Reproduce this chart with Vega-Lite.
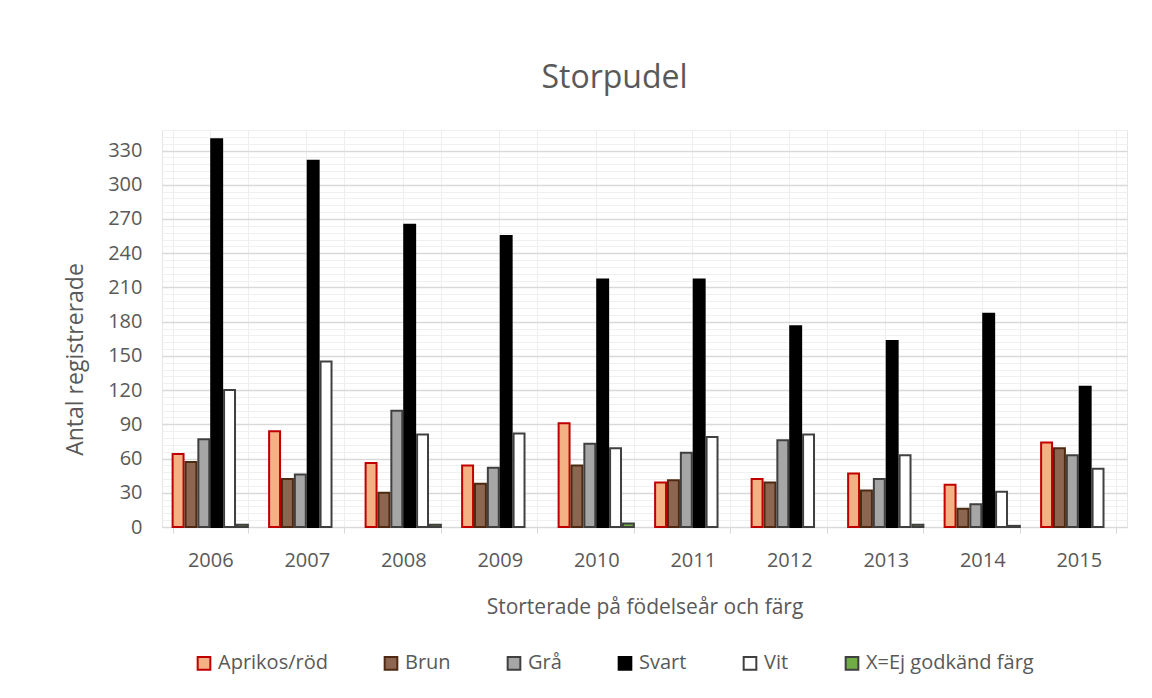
{
  "$schema": "https://vega.github.io/schema/vega-lite/v6.json",
  "autosize": {"type": "none"},
  "width": 965,
  "height": 397,
  "padding": {"left": 162, "top": 130, "right": 25, "bottom": 171},
  "background": "white",
  "config": {
    "font": "Open Sans",
    "view": {"stroke": "#e6e6e6", "strokeWidth": 1}
  },
  "title": {
    "text": "Storpudel",
    "fontSize": 32,
    "fontWeight": "normal",
    "color": "#595959",
    "font": "Open Sans",
    "anchor": "middle",
    "offset": 35,
    "dx": -30
  },
  "data": {
    "values": [
      {"ar": "2006", "farg": "Aprikos/röd", "antal": 64},
      {"ar": "2006", "farg": "Brun", "antal": 57},
      {"ar": "2006", "farg": "Grå", "antal": 77},
      {"ar": "2006", "farg": "Svart", "antal": 340},
      {"ar": "2006", "farg": "Vit", "antal": 120},
      {"ar": "2006", "farg": "X=Ej godkänd färg", "antal": 2},
      {"ar": "2007", "farg": "Aprikos/röd", "antal": 84},
      {"ar": "2007", "farg": "Brun", "antal": 42},
      {"ar": "2007", "farg": "Grå", "antal": 46},
      {"ar": "2007", "farg": "Svart", "antal": 321},
      {"ar": "2007", "farg": "Vit", "antal": 145},
      {"ar": "2008", "farg": "Aprikos/röd", "antal": 56},
      {"ar": "2008", "farg": "Brun", "antal": 30},
      {"ar": "2008", "farg": "Grå", "antal": 102},
      {"ar": "2008", "farg": "Svart", "antal": 265},
      {"ar": "2008", "farg": "Vit", "antal": 81},
      {"ar": "2008", "farg": "X=Ej godkänd färg", "antal": 2},
      {"ar": "2009", "farg": "Aprikos/röd", "antal": 54},
      {"ar": "2009", "farg": "Brun", "antal": 38},
      {"ar": "2009", "farg": "Grå", "antal": 52},
      {"ar": "2009", "farg": "Svart", "antal": 255},
      {"ar": "2009", "farg": "Vit", "antal": 82},
      {"ar": "2010", "farg": "Aprikos/röd", "antal": 91},
      {"ar": "2010", "farg": "Brun", "antal": 54},
      {"ar": "2010", "farg": "Grå", "antal": 73},
      {"ar": "2010", "farg": "Svart", "antal": 217},
      {"ar": "2010", "farg": "Vit", "antal": 69},
      {"ar": "2010", "farg": "X=Ej godkänd färg", "antal": 3},
      {"ar": "2011", "farg": "Aprikos/röd", "antal": 39},
      {"ar": "2011", "farg": "Brun", "antal": 41},
      {"ar": "2011", "farg": "Grå", "antal": 65},
      {"ar": "2011", "farg": "Svart", "antal": 217},
      {"ar": "2011", "farg": "Vit", "antal": 79},
      {"ar": "2012", "farg": "Aprikos/röd", "antal": 42},
      {"ar": "2012", "farg": "Brun", "antal": 39},
      {"ar": "2012", "farg": "Grå", "antal": 76},
      {"ar": "2012", "farg": "Svart", "antal": 176},
      {"ar": "2012", "farg": "Vit", "antal": 81},
      {"ar": "2013", "farg": "Aprikos/röd", "antal": 47},
      {"ar": "2013", "farg": "Brun", "antal": 32},
      {"ar": "2013", "farg": "Grå", "antal": 42},
      {"ar": "2013", "farg": "Svart", "antal": 163},
      {"ar": "2013", "farg": "Vit", "antal": 63},
      {"ar": "2013", "farg": "X=Ej godkänd färg", "antal": 2},
      {"ar": "2014", "farg": "Aprikos/röd", "antal": 37},
      {"ar": "2014", "farg": "Brun", "antal": 16},
      {"ar": "2014", "farg": "Grå", "antal": 20},
      {"ar": "2014", "farg": "Svart", "antal": 187},
      {"ar": "2014", "farg": "Vit", "antal": 31},
      {"ar": "2014", "farg": "X=Ej godkänd färg", "antal": 1},
      {"ar": "2015", "farg": "Aprikos/röd", "antal": 74},
      {"ar": "2015", "farg": "Brun", "antal": 69},
      {"ar": "2015", "farg": "Grå", "antal": 63},
      {"ar": "2015", "farg": "Svart", "antal": 123},
      {"ar": "2015", "farg": "Vit", "antal": 51}
    ]
  },
  "resolve": {"axis": {"x": "independent", "y": "independent"}},
  "layer": [
    {
      "mark": {"type": "bar", "opacity": 0},
      "encoding": {
        "x": {
          "field": "ar", "type": "nominal",
          "scale": {"paddingInner": 0.22, "paddingOuter": 0.11},
          "axis": {
            "orient": "bottom", "title": null, "labels": false, "ticks": false, "domain": false,
            "grid": true, "gridColor": "#eeeeee", "gridWidth": 1, "bandPosition": 0.5
          }
        },
        "xOffset": {
          "field": "farg", "type": "nominal",
          "scale": {"domain": ["Aprikos/röd", "Brun", "Grå", "Svart", "Vit", "X=Ej godkänd färg"], "paddingInner": 0.15, "paddingOuter": 0}
        },
        "y": {
          "field": "antal", "type": "quantitative",
          "scale": {"domain": [0, 348], "nice": false, "zero": true},
          "axis": {
            "orient": "left", "title": null, "labels": false, "ticks": false, "domain": false,
            "grid": true, "gridColor": "#f0f0f0", "gridWidth": 1,
            "values": [6, 12, 18, 24, 36, 42, 48, 54, 66, 72, 78, 84, 96, 102, 108, 114, 126, 132, 138, 144, 156, 162, 168, 174, 186, 192, 198, 204, 216, 222, 228, 234, 246, 252, 258, 264, 276, 282, 288, 294, 306, 312, 318, 324, 336, 342, 348]
          }
        }
      }
    },
    {
      "mark": {"type": "bar", "strokeWidth": 2},
      "encoding": {
        "x": {
          "field": "ar", "type": "nominal",
          "axis": {
            "orient": "bottom", "title": "Storterade på födelseår och färg",
            "labelFontSize": 20, "labelColor": "#595959", "labelPadding": 17,
            "titleFontSize": 21, "titleColor": "#595959", "titleFontWeight": "normal", "titlePadding": 26,
            "labelAngle": 0,
            "domain": true, "domainColor": "#d9d9d9", "domainWidth": 1,
            "ticks": true, "tickBand": "extent", "tickColor": "#d9d9d9", "tickSize": 6,
            "grid": true, "gridColor": "#eeeeee", "gridWidth": 1
          }
        },
        "xOffset": {"field": "farg", "type": "nominal"},
        "y": {
          "field": "antal", "type": "quantitative",
          "axis": {
            "orient": "left", "title": "Antal registrerade",
            "values": [0, 30, 60, 90, 120, 150, 180, 210, 240, 270, 300, 330],
            "labelFontSize": 20, "labelColor": "#595959", "labelPadding": 20,
            "titleFontSize": 23, "titleColor": "#595959", "titleFontWeight": "normal", "titlePadding": 20,
            "titleY": 229,
            "ticks": false, "domain": false,
            "grid": true, "gridColor": "#d9d9d9", "gridWidth": 1.5
          }
        },
        "fill": {
          "field": "farg", "type": "nominal",
          "scale": {
            "domain": ["Aprikos/röd", "Brun", "Grå", "Svart", "Vit", "X=Ej godkänd färg"],
            "range": ["#F4B183", "#8C6650", "#A6A6A6", "#000000", "#FFFFFF", "#70AD47"]
          },
          "legend": {
            "title": null, "orient": "none", "legendX": 32, "legendY": 523, "direction": "horizontal",
            "symbolType": "square", "symbolSize": 160, "symbolStrokeWidth": 2,
            "labelFontSize": 20, "labelColor": "#595959", "labelOffset": 4, "labelLimit": 400,
            "columnPadding": 52
          }
        },
        "stroke": {
          "field": "farg", "type": "nominal",
          "scale": {
            "domain": ["Aprikos/röd", "Brun", "Grå", "Svart", "Vit", "X=Ej godkänd färg"],
            "range": ["#C00000", "#4E2A12", "#404040", "#000000", "#404040", "#3F3F3F"]
          },
          "legend": {
            "title": null, "orient": "none", "legendX": 32, "legendY": 523, "direction": "horizontal",
            "symbolType": "square", "symbolSize": 160, "symbolStrokeWidth": 2,
            "labelFontSize": 20, "labelColor": "#595959", "labelOffset": 4, "labelLimit": 400,
            "columnPadding": 52
          }
        }
      }
    }
  ]
}
